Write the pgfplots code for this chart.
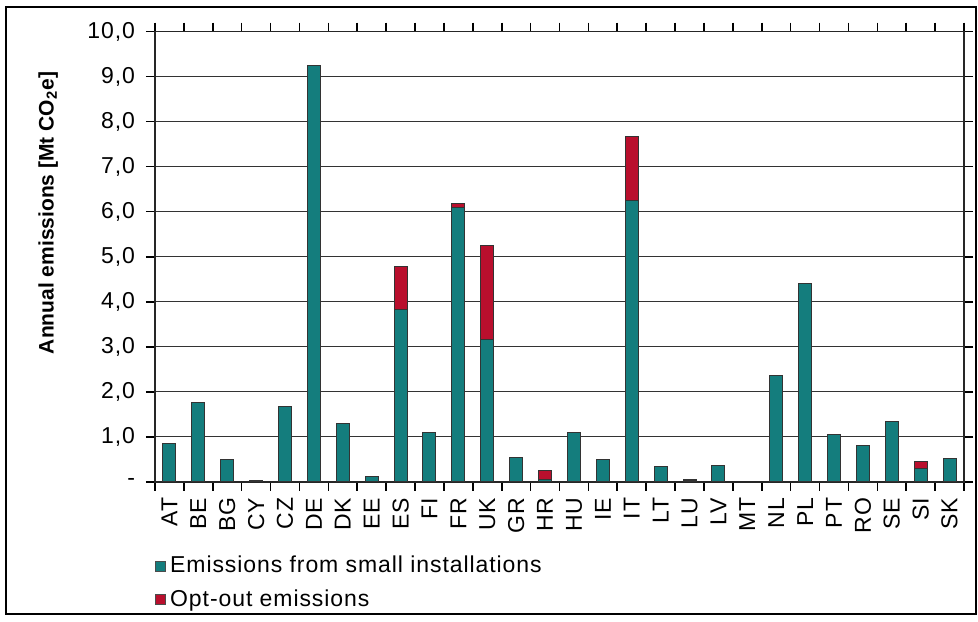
\documentclass[border=0pt]{standalone}
\usepackage{fontspec}
\setmainfont{Liberation Sans}
\newfontfamily\spaced{Liberation Sans}[LetterSpace=4]
\usepackage{pgfplots}
\pgfplotsset{compat=1.18}
\definecolor{tealbar}{RGB}{20,125,125}
\definecolor{redbar}{RGB}{185,15,45}
\pgfplotstableread{
idx green red
0 0.85 0
1 1.76 0
2 0.50 0
3 0.03 0
4 1.67 0
5 9.24 0
6 1.30 0
7 0.12 0
8 3.82 0.97
9 1.09 0
10 6.10 0.08
11 3.15 2.09
12 0.54 0
13 0.04 0.20
14 1.09 0
15 0.50 0
16 6.24 1.43
17 0.34 0
18 0.03 0.03
19 0.37 0
20 0 0
21 2.37 0
22 4.41 0
23 1.05 0
24 0.80 0
25 1.33 0
26 0.30 0.16
27 0.51 0
}\datatable
\begin{document}
\begin{tikzpicture}
\path (-77.5pt,-69.65pt) rectangle (411.5pt,240.85pt);
\begin{axis}[
  at={(0,0)}, anchor=south west,
  scale only axis, width=404.5pt, height=225pt,
  ybar stacked, bar width=0.45,
  xmin=-0.5, xmax=27.5, ymin=0, ymax=10,
  xtick={0,...,27},
  xticklabels={AT,BE,BG,CY,CZ,DE,DK,EE,ES,FI,FR,UK,GR,HR,HU,IE,IT,LT,LU,LV,MT,NL,PL,PT,RO,SE,SI,SK},
  major x tick style={draw=none},
  minor xtick={-0.5,0.5,...,27.5},
  ytick={0,1,...,10},
  yticklabels={-,{1,0},{2,0},{3,0},{4,0},{5,0},{6,0},{7,0},{8,0},{9,0},{10,0}},
  tick align=outside, major tick length=4.5pt, minor tick length=4.5pt,
  tick style={black, line width=0.8pt},
  ymajorgrids, grid style={black!80, line width=0.7pt},
  axis line style={black!85, line width=0.8pt},
  x tick label style={rotate=90, anchor=east, font=\spaced\fontsize{11.5}{13}\selectfont},
  y tick label style={font=\spaced\fontsize{11.5}{13}\selectfont, xshift=-2pt},
  ylabel={Annual emissions [Mt CO\textsubscript{2}e]},
  ylabel style={at={(axis description cs:-0.132,0.597)}, anchor=center, font=\bfseries\fontsize{10.5}{12}\selectfont},
  legend style={at={(axis description cs:0,0)}, anchor=north west, yshift=-35pt,
    draw=none, fill=none, inner sep=0pt, row sep=3pt,
    font=\spaced\fontsize{11.5}{13}\selectfont, cells={anchor=west}},
  legend image code/.code={\draw[#1, draw=black!70, line width=0.4pt] (0pt,-2.5pt) rectangle (5pt,2.5pt);},
]
\addplot[fill=tealbar, draw=black!80, line width=0.5pt] table[x=idx, y=green] {\datatable};
\addlegendentry{Emissions from small installations}
\addplot[fill=redbar, draw=black!80, line width=0.5pt] table[x=idx, y=red] {\datatable};
\addlegendentry{Opt-out emissions}
\end{axis}
\draw[line width=1pt] (-74.5pt,-66.15pt) rectangle (410.5pt,237.35pt);
\end{tikzpicture}
\end{document}
